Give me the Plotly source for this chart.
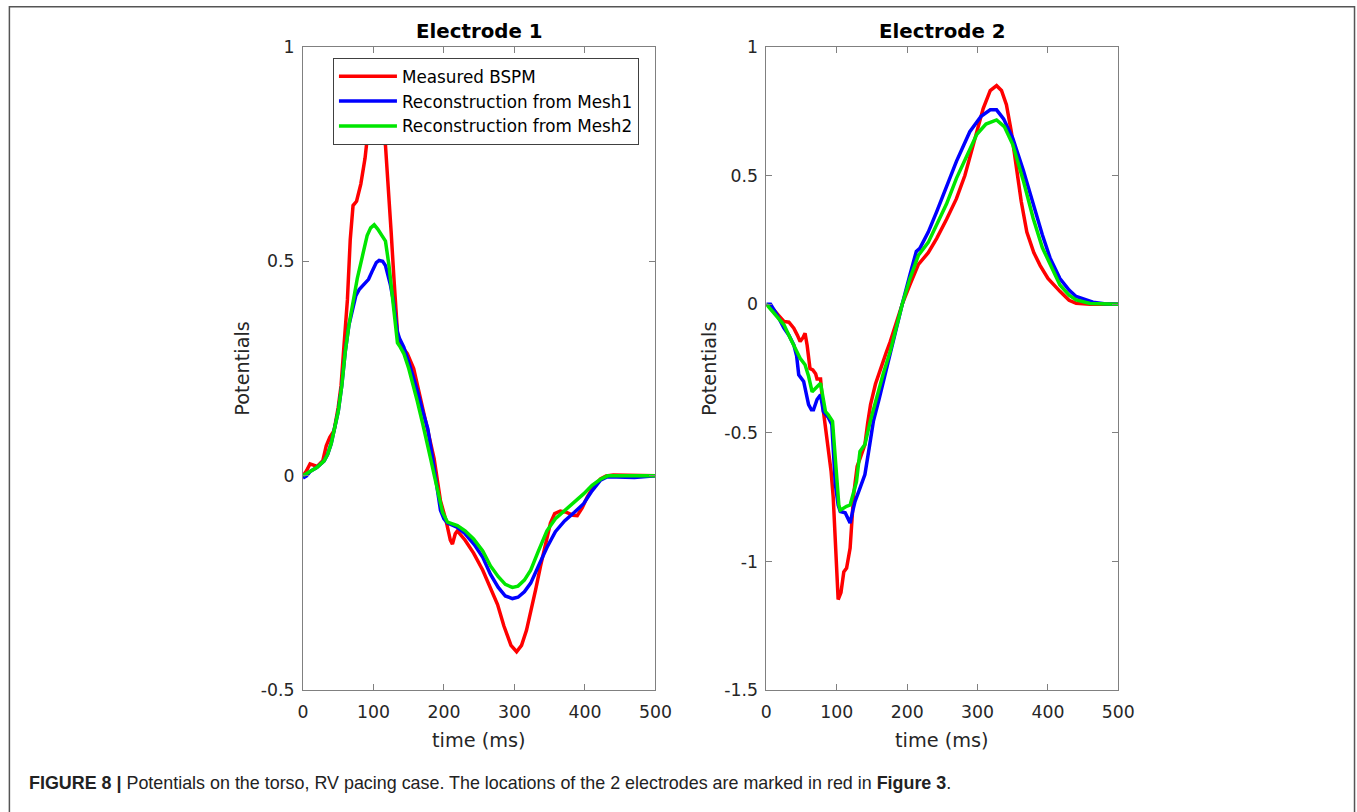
import plotly.graph_objects as go

# ---------------- data ----------------
series_names = ["Measured BSPM", "Reconstruction from Mesh1", "Reconstruction from Mesh2"]
series_colors = ["#ff0000", "#0000ff", "#00e600"]

# Electrode 1
e1_meas_t = [0, 5, 10, 15, 20, 28, 33, 38, 44, 50, 54, 58, 63, 67, 71, 76, 82, 88, 92, 96, 102, 108, 112, 117,
             121, 125, 129, 132, 135, 141, 148, 157, 164, 172, 180, 186, 195, 203, 209, 212, 216, 219, 230, 242,
             255, 266, 276, 285, 295, 303, 310, 317, 323, 330, 337, 345, 351, 357, 365, 374, 383, 389, 396, 403,
             412, 422, 430, 440, 500]
e1_meas_v = [0, 0.012, 0.028, 0.025, 0.022, 0.035, 0.07, 0.09, 0.105, 0.16, 0.21, 0.3, 0.41, 0.55, 0.63, 0.64,
             0.68, 0.74, 0.8, 0.84, 0.87, 0.84, 0.8, 0.77, 0.68, 0.57, 0.46, 0.37, 0.31, 0.3, 0.285, 0.25, 0.2,
             0.135, 0.08, 0.04, -0.058, -0.105, -0.15, -0.159, -0.135, -0.128, -0.15, -0.18, -0.22, -0.26, -0.3,
             -0.35, -0.395, -0.41, -0.395, -0.36, -0.32, -0.265, -0.21, -0.15, -0.11, -0.088, -0.082, -0.085,
             -0.092, -0.093, -0.075, -0.05, -0.025, -0.007, 0, 0.002, 0.0]

e1_m1_t = [0, 5, 10, 20, 30, 35, 40, 45, 50, 55, 60, 65, 70, 75, 80, 86, 93, 99, 104, 108, 113, 117, 121, 124,
           128, 131, 134, 137, 143, 150, 156, 162, 170, 177, 184, 191, 195, 200, 205, 212, 219, 230, 243, 255,
           266, 277, 287, 297, 305, 314, 323, 334, 346, 358, 371, 385, 398, 410, 422, 432, 450, 470, 500]
e1_m1_v = [-0.005, 0.0, 0.01, 0.02, 0.035, 0.05, 0.075, 0.11, 0.15, 0.21, 0.29, 0.35, 0.39, 0.42, 0.435, 0.447,
           0.458, 0.48, 0.497, 0.502, 0.5, 0.49, 0.465, 0.445, 0.41, 0.37, 0.335, 0.32, 0.3, 0.265, 0.235, 0.2,
           0.15, 0.11, 0.04, -0.035, -0.08, -0.1, -0.11, -0.115, -0.12, -0.135, -0.16, -0.19, -0.23, -0.26, -0.28,
           -0.286, -0.283, -0.27, -0.25, -0.21, -0.167, -0.13, -0.105, -0.085, -0.065, -0.035, -0.01, -0.002,
           -0.002, -0.004, 0.0]

e1_m2_t = [0, 10, 20, 30, 35, 40, 45, 50, 55, 60, 65, 70, 77, 84, 91, 96, 101, 106, 112, 117, 122, 126, 131, 134,
           138, 143, 150, 156, 162, 170, 176, 181, 187, 193, 198, 205, 212, 219, 230, 242, 255, 266, 277, 287, 297,
           305, 314, 323, 334, 346, 358, 371, 385, 398, 410, 422, 432, 450, 500]
e1_m2_v = [0, 0.01, 0.02, 0.035, 0.05, 0.075, 0.11, 0.15, 0.21, 0.29, 0.35, 0.40, 0.46, 0.51, 0.56, 0.578, 0.585,
           0.575, 0.56, 0.547, 0.49, 0.43, 0.37, 0.31, 0.3, 0.285, 0.25, 0.215, 0.175, 0.12, 0.08, 0.04, -0.005,
           -0.05, -0.085, -0.108, -0.112, -0.116, -0.128, -0.147, -0.175, -0.21, -0.235, -0.253, -0.26, -0.257,
           -0.243, -0.22, -0.175, -0.128, -0.1, -0.081, -0.062, -0.042, -0.022, -0.008, 0, 0, 0]

# Electrode 2
e2_meas_t = [0, 10, 18, 25, 32, 39, 44, 48, 52, 55, 58, 62, 66, 70, 72, 77, 81, 85, 88, 92, 95, 98, 102, 106,
             110, 114, 119, 124, 129, 133, 140, 144, 148, 155, 162, 170, 176, 185, 193, 204, 210, 216, 230, 242,
             256, 270, 282, 293, 308, 318, 327, 334, 341, 348, 355, 362, 370, 380, 389, 400, 417, 430, 440, 460, 500]
e2_meas_v = [0, -0.02, -0.045, -0.067, -0.07, -0.093, -0.12, -0.145, -0.13, -0.113, -0.16, -0.25, -0.255, -0.27,
             -0.29, -0.29, -0.415, -0.5, -0.545, -0.65, -0.75, -0.947, -1.147, -1.12, -1.04, -1.025, -0.947, -0.74,
             -0.63, -0.6, -0.545, -0.46, -0.39, -0.31, -0.25, -0.19, -0.145, -0.07, 0.0, 0.076, 0.12, 0.155, 0.2,
             0.256, 0.33, 0.41, 0.5, 0.605, 0.76, 0.83, 0.849, 0.83, 0.775, 0.67, 0.54, 0.4, 0.28, 0.2, 0.15, 0.1,
             0.05, 0.015, 0.004, 0, 0]

e2_m1_t = [0, 6, 15, 25, 32, 39, 43, 46, 53, 57, 60, 64, 67, 72, 77, 81, 88, 93, 98, 102, 105, 112, 116, 119, 123,
           126, 133, 140, 146, 152, 160, 166, 173, 180, 186, 193, 204, 213, 218, 230, 242, 256, 270, 289, 305, 318,
           327, 337, 350, 365, 379, 392, 403, 417, 430, 440, 464, 480, 500]
e2_m1_v = [0, 0.0, -0.04, -0.093, -0.12, -0.158, -0.2, -0.274, -0.3, -0.35, -0.39, -0.41, -0.41, -0.37, -0.352,
           -0.417, -0.44, -0.467, -0.70, -0.78, -0.805, -0.81, -0.83, -0.85, -0.8, -0.766, -0.714, -0.662, -0.56,
           -0.455, -0.37, -0.3, -0.22, -0.145, -0.07, 0, 0.115, 0.205, 0.217, 0.28, 0.36, 0.46, 0.555, 0.67, 0.73,
           0.755, 0.755, 0.72, 0.645, 0.52, 0.386, 0.27, 0.18, 0.1, 0.055, 0.03, 0.008, 0.002, 0]

e2_m2_t = [0, 10, 25, 34, 41, 48, 55, 60, 65, 69, 72, 77, 84, 88, 94, 98, 103, 105, 110, 114, 119, 124, 128, 133,
           140, 148, 156, 166, 176, 185, 193, 204, 216, 230, 242, 256, 270, 285, 299, 312, 327, 338, 350, 365, 379,
           392, 403, 417, 430, 440, 460, 500]
e2_m2_v = [0, -0.03, -0.08, -0.132, -0.17, -0.21, -0.235, -0.28, -0.34, -0.33, -0.32, -0.307, -0.417, -0.43,
           -0.455, -0.62, -0.78, -0.8, -0.79, -0.785, -0.78, -0.73, -0.69, -0.572, -0.545, -0.45, -0.365, -0.27,
           -0.183, -0.09, 0, 0.1, 0.19, 0.24, 0.308, 0.39, 0.489, 0.58, 0.66, 0.7, 0.716, 0.69, 0.62, 0.48, 0.334,
           0.22, 0.153, 0.075, 0.035, 0.017, 0.003, 0]

x_ticks = [0, 100, 200, 300, 400, 500]
x_ticktext = ["0", "100", "200", "300", "400", "500"]
y1_ticks = [-0.5, 0, 0.5, 1]
y1_ticktext = ["-0.5", "0", "0.5", "1"]
y2_ticks = [-1.5, -1, -0.5, 0, 0.5, 1]
y2_ticktext = ["-1.5", "-1", "-0.5", "0", "0.5", "1"]

titles = ["Electrode 1", "Electrode 2"]
x_label = "time (ms)"
y_label = "Potentials"
caption = ("<b>FIGURE 8 |</b> Potentials on the torso, RV pacing case. The locations of the 2 electrodes "
           "are marked in red in <b>Figure 3</b>.")

# ---------------- figure ----------------
W, H = 1380, 836
FONT = "DejaVu Sans"
AXC = "#808080"
TXT = "#262626"

# observed screen mapping compensation (screen = s * page + o); body is shifted up by 5px
SHIFT_Y = 5
SX, OX = 0.9847, 4.6
SY, OY = 0.9767, 9.07 - SHIFT_Y * 0.9767


def px_x(screen):
    return ((screen - OX) / SX) / W


def px_y(screen):
    return 1 - ((screen - OY) / SY) / H


fig = go.Figure()

e1 = [(e1_meas_t, e1_meas_v), (e1_m1_t, e1_m1_v), (e1_m2_t, e1_m2_v)]
e2 = [(e2_meas_t, e2_meas_v), (e2_m1_t, e2_m1_v), (e2_m2_t, e2_m2_v)]

for i, (t, v) in enumerate(e1):
    fig.add_trace(go.Scatter(x=t, y=v, mode="lines", name=series_names[i],
                             line=dict(color=series_colors[i], width=3.5),
                             xaxis="x", yaxis="y", showlegend=True))
for i, (t, v) in enumerate(e2):
    fig.add_trace(go.Scatter(x=t, y=v, mode="lines", name=series_names[i],
                             line=dict(color=series_colors[i], width=3.5),
                             xaxis="x2", yaxis="y2", showlegend=False))

common_x = dict(range=[0, 500], tickvals=x_ticks, ticktext=x_ticktext, ticks="inside", ticklen=6,
                tickcolor=AXC, showline=True, linecolor=AXC, linewidth=1, mirror="ticks",
                showgrid=False, zeroline=False, tickfont=dict(family=FONT, size=17.3, color=TXT),
                ticklabelstandoff=6)
common_y = dict(ticks="inside", ticklen=6, tickcolor=AXC, showline=True, linecolor=AXC, linewidth=1,
                mirror="ticks", showgrid=False, zeroline=False,
                tickfont=dict(family=FONT, size=17.3, color=TXT), ticklabelstandoff=4)

fig.update_layout(
    width=W, height=H,
    margin=dict(l=0, r=0, t=0, b=0),
    paper_bgcolor="white", plot_bgcolor="white",
    xaxis=dict(domain=[px_x(302), px_x(655)], anchor="y", **common_x),
    yaxis=dict(domain=[px_y(690), px_y(46)], anchor="x", range=[-0.5, 1],
               tickvals=y1_ticks, ticktext=y1_ticktext, **common_y),
    xaxis2=dict(domain=[px_x(766), px_x(1118.5)], anchor="y2", **common_x),
    yaxis2=dict(domain=[px_y(690), px_y(46)], anchor="x2", range=[-1.5, 1],
                tickvals=y2_ticks, ticktext=y2_ticktext, **common_y),
    legend=dict(x=px_x(332), y=px_y(57), xanchor="left", yanchor="top",
                bgcolor="white", bordercolor="#404040", borderwidth=1,
                font=dict(family=FONT, size=16.8, color="#000000"), tracegroupgap=0,
                itemwidth=58),
    showlegend=True,
)

annotations = [
    dict(text="<b>" + titles[0] + "</b>", x=px_x(478.5), y=px_y(31), xref="paper", yref="paper",
         showarrow=False, font=dict(family=FONT, size=19.8, color="#000000"), xanchor="center", yanchor="middle"),
    dict(text="<b>" + titles[1] + "</b>", x=px_x(942), y=px_y(31), xref="paper", yref="paper",
         showarrow=False, font=dict(family=FONT, size=19.8, color="#000000"), xanchor="center", yanchor="middle"),
    dict(text=x_label, x=px_x(478.5), y=px_y(740), xref="paper", yref="paper", showarrow=False,
         font=dict(family=FONT, size=19.3, color=TXT), xanchor="center", yanchor="middle"),
    dict(text=x_label, x=px_x(942), y=px_y(740), xref="paper", yref="paper", showarrow=False,
         font=dict(family=FONT, size=19.3, color=TXT), xanchor="center", yanchor="middle"),
    dict(text=y_label, x=px_x(242), y=px_y(368), xref="paper", yref="paper", showarrow=False, textangle=-90,
         font=dict(family=FONT, size=19.3, color=TXT), xanchor="center", yanchor="middle"),
    dict(text=y_label, x=px_x(709), y=px_y(368), xref="paper", yref="paper", showarrow=False, textangle=-90,
         font=dict(family=FONT, size=19.3, color=TXT), xanchor="center", yanchor="middle"),
    dict(text=caption, x=px_x(26), y=px_y(783), xref="paper", yref="paper", showarrow=False,
         font=dict(family="Liberation Sans", size=17.9, color="#222222"), xanchor="left", yanchor="middle"),
]
fig.update_layout(annotations=annotations)

fig.add_shape(type="rect", xref="paper", yref="paper",
              x0=px_x(8), x1=px_x(1355), y0=-0.05, y1=px_y(6),
              line=dict(color="#555555", width=1.5), fillcolor="rgba(0,0,0,0)", layer="above")

fig.write_html("out.html", config={"displayModeBar": False},
               post_script="document.body.style.margin='0';document.body.style.marginTop='-%dpx';"
                           "document.body.style.overflow='hidden';" % SHIFT_Y)
